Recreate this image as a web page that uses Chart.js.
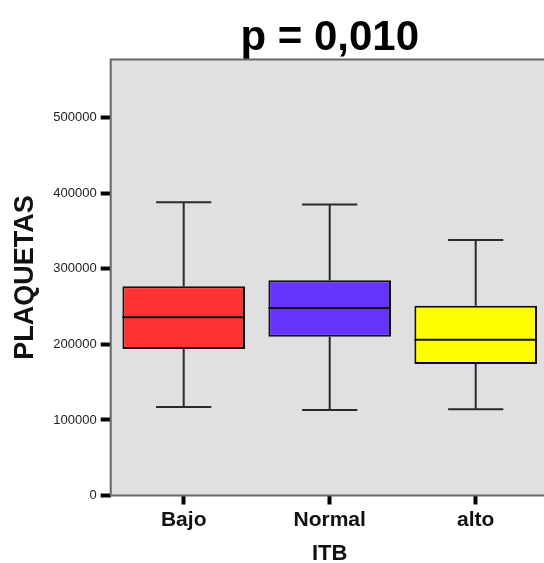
<!DOCTYPE html>
<html>
<head>
<meta charset="utf-8">
<script src="https://cdn.jsdelivr.net/npm/chart.js@4/dist/chart.umd.min.js"></script>
<style>
  html, body { margin: 0; padding: 0; background: #fff; overflow: hidden; }
  #wrap { position: relative; width: 550px; height: 563px; }
</style>
</head>
<body>
<div id="wrap"><canvas id="c"></canvas></div>
<script>
// Platelet counts by ITB group: five-number summaries per group
const categories  = ['Bajo', 'Normal', 'alto'];
const whiskerLow  = [117000, 113000, 114000];
const q1          = [194000, 210000, 174000];
const median      = [236000, 248000, 206000];
const q3          = [277000, 285000, 251000];
const whiskerHigh = [388000, 385000, 338000];
const yTicks      = [0, 100000, 200000, 300000, 400000, 500000];
const yMax        = 577000;
const boxColors   = ['#ff3333', '#6633ff', '#ffff00'];

const FONT = "'Liberation Sans', Arial, Helvetica, sans-serif";

// Grey plot background, frame, whiskers and median lines
const boxPlot = {
  id: 'boxPlot',
  beforeDraw(chart) {
    const { ctx, chartArea: a } = chart;
    ctx.save();
    ctx.fillStyle = '#e0e0e0';
    ctx.fillRect(a.left, a.top, a.right - a.left, a.bottom - a.top);
    ctx.restore();
  },
  beforeDatasetsDraw(chart) {
    const { ctx, chartArea: a, scales: { x, y } } = chart;
    const meta = chart.getDatasetMeta(0);
    ctx.save();
    // frame
    ctx.strokeStyle = '#666';
    ctx.lineWidth = 2;
    ctx.beginPath();
    ctx.moveTo(a.right + 2, a.top);
    ctx.lineTo(a.left, a.top);
    ctx.lineTo(a.left, a.bottom);
    ctx.lineTo(a.right + 2, a.bottom);
    ctx.stroke();
    // whiskers
    ctx.strokeStyle = '#2a2a2a';
    ctx.lineWidth = 2;
    categories.forEach((c, i) => {
      const cx = x.getPixelForValue(i);
      const half = meta.data[i].width * 0.225;
      const yHi = y.getPixelForValue(whiskerHigh[i]);
      const yLo = y.getPixelForValue(whiskerLow[i]);
      ctx.beginPath();
      ctx.moveTo(cx, y.getPixelForValue(q3[i]));
      ctx.lineTo(cx, yHi);
      ctx.moveTo(cx - half, yHi);
      ctx.lineTo(cx + half, yHi);
      ctx.moveTo(cx, y.getPixelForValue(q1[i]));
      ctx.lineTo(cx, yLo);
      ctx.moveTo(cx - half, yLo);
      ctx.lineTo(cx + half, yLo);
      ctx.stroke();
    });
    ctx.restore();
  },
  afterDatasetsDraw(chart) {
    const { ctx, scales: { y } } = chart;
    const meta = chart.getDatasetMeta(0);
    ctx.save();
    ctx.strokeStyle = '#111';
    ctx.lineWidth = 2;
    categories.forEach((c, i) => {
      const bar = meta.data[i];
      const ym = y.getPixelForValue(median[i]);
      ctx.beginPath();
      ctx.moveTo(bar.x - bar.width / 2, ym);
      ctx.lineTo(bar.x + bar.width / 2, ym);
      ctx.stroke();
    });
    ctx.restore();
  }
};

new Chart(document.getElementById('c'), {
  type: 'bar',
  data: {
    labels: categories,
    datasets: [{
      data: categories.map((c, i) => [q1[i], q3[i]]),
      backgroundColor: boxColors,
      borderColor: '#111',
      borderWidth: 2,
      borderSkipped: false,
      barPercentage: 0.84,
      categoryPercentage: 1
    }]
  },
  options: {
    responsive: true,
    maintainAspectRatio: false,
    animation: false,
    devicePixelRatio: 1,
    layout: { padding: { left: 0, right: 1.3, top: 0, bottom: 0 } },
    plugins: {
      legend: { display: false },
      tooltip: { enabled: false },
      title: {
        display: true,
        text: 'p = 0,010',
        fullSize: false,
        color: '#000',
        font: { family: FONT, size: 42, weight: 'bold', lineHeight: 1 },
        padding: { top: 17, bottom: 0.5 }
      }
    },
    scales: {
      x: {
        type: 'category',
        offset: true,
        afterFit(s) { s.height = 67.5; },
        grid: {
          display: true,
          offset: false,
          drawOnChartArea: false,
          drawTicks: true,
          tickLength: 9,
          tickWidth: 4,
          tickColor: '#000'
        },
        border: { display: false },
        ticks: {
          color: '#111',
          padding: 3,
          font: { family: FONT, size: 21, weight: 'bold' }
        },
        title: {
          display: true,
          text: 'ITB',
          color: '#111',
          font: { family: FONT, size: 22, weight: 'bold', lineHeight: 0.8 },
          padding: { top: 0, bottom: 0 }
        }
      },
      y: {
        min: 0,
        max: yMax,
        afterFit(s) { s.width = 110.7; },
        afterBuildTicks(s) { s.ticks = yTicks.map(v => ({ value: v })); },
        grid: {
          display: true,
          drawOnChartArea: false,
          drawTicks: true,
          tickLength: 10,
          tickWidth: 4,
          tickColor: '#000'
        },
        border: { display: false },
        ticks: {
          color: '#222',
          padding: 4,
          font: { family: FONT, size: 13 },
          callback: v => String(v)
        },
        title: {
          display: true,
          text: 'PLAQUETAS',
          color: '#111',
          font: { family: FONT, size: 27, weight: 'bold', lineHeight: 1 },
          padding: { top: 12.5, bottom: 0 }
        }
      }
    }
  },
  plugins: [boxPlot]
});
</script>
</body>
</html>
